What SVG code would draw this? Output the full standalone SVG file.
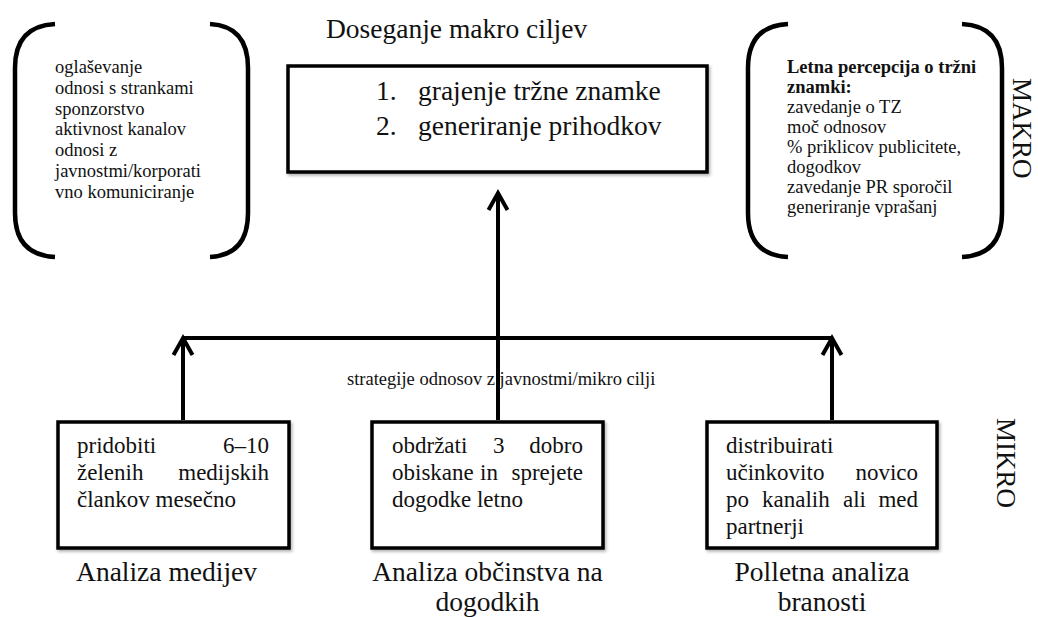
<svg xmlns="http://www.w3.org/2000/svg" width="1038" height="617" viewBox="0 0 1038 617">
<defs>
<filter id="sh" x="-5%" y="-5%" width="115%" height="120%">
<feDropShadow dx="1.5" dy="2" stdDeviation="1.5" flood-color="#000" flood-opacity="0.3"/>
</filter>
<marker id="ah" markerUnits="userSpaceOnUse" orient="auto" refX="0" refY="0" overflow="visible">
<path d="M -17 -9.5 L 0 0 L -17 9.5" fill="none" stroke="#000" stroke-width="4" stroke-linejoin="miter"/>
</marker>
</defs>
<style>
text{font-family:"Liberation Serif","Times New Roman",serif;fill:#111;}
.sm{font-size:18.5px;}
.md{font-size:23px;}
.lg{font-size:27.5px;}
.b{font-weight:bold;}
.brk{fill:none;stroke:#000;stroke-width:4.5;stroke-linecap:butt;}
.box{fill:#fff;stroke:#000;stroke-width:3.5;filter:url(#sh);}
.con{fill:none;stroke:#000;stroke-width:4;}
</style>
<rect width="1038" height="617" fill="#fff"/>

<g id="title">
<text class="lg" x="326" y="38">Doseganje makro ciljev</text>
</g>

<g id="macro-box">
<rect class="box" x="288" y="66" width="419" height="106" stroke-width="4"/>
<text class="lg" x="376" y="100">1.</text>
<text class="lg" x="418" y="100">grajenje tržne znamke</text>
<text class="lg" x="376" y="135">2.</text>
<text class="lg" x="418" y="135">generiranje prihodkov</text>
</g>

<g id="left-bracket">
<path class="brk" d="M 55 24 Q 15 26 15 68 L 15 213 Q 15 255 55 257"/>
<path class="brk" d="M 210 24 Q 248 26 248 68 L 248 213 Q 248 255 210 257"/>
<text class="sm" x="55" y="73">oglaševanje</text>
<text class="sm" x="55" y="93.8">odnosi s strankami</text>
<text class="sm" x="55" y="114.6">sponzorstvo</text>
<text class="sm" x="55" y="135.4">aktivnost kanalov</text>
<text class="sm" x="55" y="156.2">odnosi z</text>
<text class="sm" x="55" y="177">javnostmi/korporati</text>
<text class="sm" x="55" y="197.8">vno komuniciranje</text>
</g>

<g id="right-bracket">
<path class="brk" d="M 788 24 Q 748 26 748 68 L 748 213 Q 748 255 788 257"/>
<path class="brk" d="M 962 24 Q 1002 26 1002 68 L 1002 213 Q 1002 255 962 257"/>
<text class="sm b" x="787" y="73">Letna percepcija o tržni</text>
<text class="sm b" x="787" y="93">znamki:</text>
<text class="sm" x="787" y="113">zavedanje o TZ</text>
<text class="sm" x="787" y="133">moč odnosov</text>
<text class="sm" x="787" y="153">% priklicov publicitete,</text>
<text class="sm" x="787" y="173">dogodkov</text>
<text class="sm" x="787" y="193">zavedanje PR sporočil</text>
<text class="sm" x="787" y="213">generiranje vprašanj</text>
</g>

<g id="makro-label">
<text style="font-size:27px" transform="translate(1013,78) rotate(90)">MAKRO</text>
</g>
<g id="mikro-label">
<text style="font-size:27px" transform="translate(997,418) rotate(90)">MIKRO</text>
</g>

<g id="strategy-label">
<text class="sm" x="347" y="385">strategije odnosov z javnostmi/mikro cilji</text>
</g>

<g id="box-media">
<rect class="box" x="58" y="422" width="231" height="126"/>
<text class="md" x="77" y="453">pridobiti</text>
<text class="md" x="269" y="453" text-anchor="end">6–10</text>
<text class="md" x="77" y="480">želenih</text>
<text class="md" x="269" y="480" text-anchor="end">medijskih</text>
<text class="md" x="77" y="507">člankov mesečno</text>
<text class="lg" x="166.5" y="581" text-anchor="middle">Analiza medijev</text>
</g>

<g id="box-public">
<rect class="box" x="372" y="422" width="231" height="126"/>
<text class="md" x="392" y="453">obdržati</text>
<text class="md" x="493" y="453">3</text>
<text class="md" x="583" y="453" text-anchor="end">dobro</text>
<text class="md" x="392" y="480">obiskane</text>
<text class="md" x="480" y="480">in</text>
<text class="md" x="583" y="480" text-anchor="end">sprejete</text>
<text class="md" x="392" y="507">dogodke letno</text>
<text class="lg" x="487.5" y="581" text-anchor="middle">Analiza občinstva na</text>
<text class="lg" x="487.5" y="611" text-anchor="middle">dogodkih</text>
</g>

<g id="box-readership">
<rect class="box" x="707" y="422" width="230" height="126"/>
<text class="md" x="726" y="453">distribuirati</text>
<text class="md" x="726" y="480">učinkovito</text>
<text class="md" x="918" y="480" text-anchor="end">novico</text>
<text class="md" x="726" y="507">po</text>
<text class="md" x="762" y="507">kanalih</text>
<text class="md" x="843" y="507">ali</text>
<text class="md" x="918" y="507" text-anchor="end">med</text>
<text class="md" x="726" y="534">partnerji</text>
<text class="lg" x="822" y="581" text-anchor="middle">Polletna analiza</text>
<text class="lg" x="822" y="611" text-anchor="middle">branosti</text>
</g>

<g id="connectors">
<path class="con" d="M 183 338 L 832 338"/>
<path class="con" d="M 183 420 L 183 338" marker-end="url(#ah)"/>
<path class="con" d="M 832 420 L 832 338" marker-end="url(#ah)"/>
<path class="con" d="M 498 420 L 498 193" marker-end="url(#ah)"/>
</g>
</svg>
